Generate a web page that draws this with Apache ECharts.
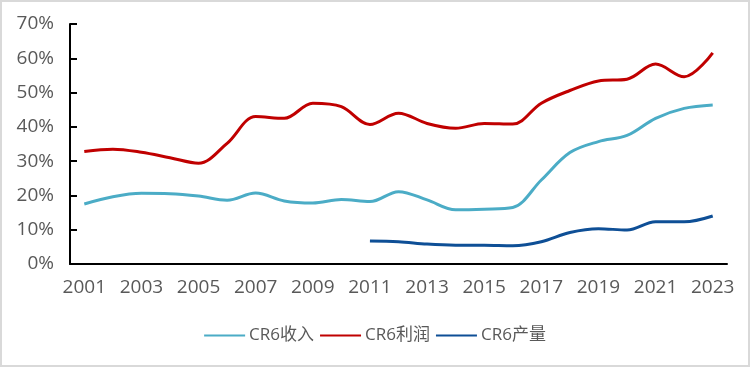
<!DOCTYPE html>
<html>
<head>
<meta charset="utf-8">
<script src="https://cdn.jsdelivr.net/npm/echarts@6/dist/echarts.min.js"></script>
<style>
html,body{margin:0;padding:0;background:#fff;}
#wrap{position:absolute;left:0;top:0;width:750px;height:367px;box-sizing:border-box;border:2px solid #d9d9d9;}
#chart{position:absolute;left:0;top:0;width:750px;height:367px;}
</style>
</head>
<body>
<div id="chart"></div>
<div id="wrap"></div>
<script>
const categories = ['2001','2002','2003','2004','2005','2006','2007','2008','2009','2010','2011','2012','2013','2014','2015','2016','2017','2018','2019','2020','2021','2022','2023'];
const incomeCR6 = [17.5,19.6,20.6,20.5,19.8,18.6,20.7,18.4,17.8,18.8,18.2,21.1,18.7,15.8,16.0,16.5,24.5,32.5,35.7,37.5,42.5,45.4,46.4];
const profitCR6 = [32.8,33.5,32.6,31.0,29.4,35.2,43.0,42.5,46.9,45.9,40.7,44.0,41.0,39.6,41.0,40.8,46.9,50.6,53.4,53.9,58.3,54.6,61.6];
const outputCR6 = [null,null,null,null,null,null,null,null,null,null,6.7,6.5,5.8,5.5,5.5,5.35,6.5,9.2,10.3,9.9,12.3,12.3,14.0];
const yTicks = [0,10,20,30,40,50,60,70];

const font = "'Open Sans','Noto Sans CJK SC',sans-serif";
const chart = echarts.init(document.getElementById('chart'));
chart.setOption({
  animation:false,
  backgroundColor:'#fff',
  grid:{left:70,right:23,top:24,bottom:103},
  legend:{
    bottom:18,left:'center',
    icon:'rect',itemWidth:41,itemHeight:2,itemGap:6,
    textStyle:{fontFamily:font,fontSize:17,color:'#595959',padding:[0,0,0,-1]},
    data:['CR6收入','CR6利润','CR6产量']
  },
  xAxis:{
    type:'category',data:categories,boundaryGap:true,
    axisLine:{lineStyle:{color:'#000',width:2}},
    axisTick:{inside:true,length:7,lineStyle:{color:'#000',width:2},interval:0},
    axisLabel:{interval:1,margin:14,fontFamily:font,fontSize:19,color:'#595959'}
  },
  yAxis:{
    type:'value',min:yTicks[0],max:yTicks[yTicks.length-1],interval:10,
    splitLine:{show:false},
    axisLine:{show:true,lineStyle:{color:'#000',width:2}},
    axisTick:{show:true,inside:true,length:7,lineStyle:{color:'#000',width:2}},
    axisLabel:{margin:16,fontFamily:font,fontSize:19,color:'#595959',formatter:v=>v+'%'}
  },
  series:[
    {name:'CR6收入',type:'line',data:incomeCR6,smooth:0.35,showSymbol:false,lineStyle:{color:'#4BACC6',width:3},itemStyle:{color:'#4BACC6'}},
    {name:'CR6利润',type:'line',data:profitCR6,smooth:0.35,showSymbol:false,lineStyle:{color:'#C00000',width:3},itemStyle:{color:'#C00000'}},
    {name:'CR6产量',type:'line',data:outputCR6,smooth:0.35,showSymbol:false,lineStyle:{color:'#0E4F96',width:3},itemStyle:{color:'#0E4F96'}}
  ]
});
</script>
</body>
</html>
